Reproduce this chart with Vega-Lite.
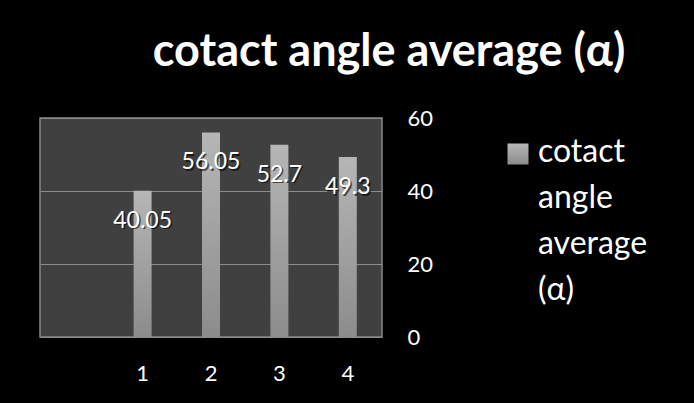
{
  "$schema": "https://vega.github.io/schema/vega-lite/v6.json",
  "autosize": {"type": "none"},
  "width": 342,
  "height": 219,
  "padding": {"left": 40, "top": 118, "right": 312, "bottom": 66},
  "background": "#000000",
  "config": {
    "font": "Lato",
    "view": {"fill": "#404040", "stroke": "#868686", "strokeWidth": 1.5}
  },
  "title": {
    "text": "cotact angle average (α)",
    "font": "Lato",
    "fontSize": 45,
    "fontWeight": "bold",
    "color": "#ffffff",
    "anchor": "middle",
    "frame": "group",
    "dx": 178,
    "baseline": "alphabetic",
    "offset": -4
  },
  "data": {
    "values": [
      {"k": "1", "v": 40.05, "series": "cotact angle average (α)"},
      {"k": "2", "v": 56.05, "series": "cotact angle average (α)"},
      {"k": "3", "v": 52.7, "series": "cotact angle average (α)"},
      {"k": "4", "v": 49.3, "series": "cotact angle average (α)"}
    ]
  },
  "encoding": {
    "x": {
      "field": "k",
      "type": "ordinal",
      "scale": {"domain": ["", "1", "2", "3", "4"], "paddingInner": 0.737, "paddingOuter": 0.3685},
      "axis": {
        "title": null,
        "labelAngle": 0,
        "ticks": false,
        "domain": false,
        "grid": false,
        "labelPadding": 26,
        "labelColor": "#ffffff",
        "labelFontSize": 22,
        "labelFont": "Lato"
      }
    },
    "y": {
      "field": "v",
      "type": "quantitative",
      "scale": {"domain": [0, 60], "nice": false},
      "axis": {
        "orient": "right",
        "title": null,
        "values": [0, 20, 40, 60],
        "ticks": false,
        "domain": false,
        "grid": true,
        "gridColor": "#8c8c8c",
        "gridWidth": 1,
        "labelPadding": 25,
        "labelColor": "#ffffff",
        "labelFontSize": 22,
        "labelFont": "Lato"
      }
    }
  },
  "layer": [
    {
      "mark": {
        "type": "bar",
        "color": {
          "gradient": "linear",
          "x1": 0, "y1": 0, "x2": 0, "y2": 1,
          "stops": [
            {"offset": 0, "color": "#b6b6b6"},
            {"offset": 1, "color": "#8c8c8c"}
          ]
        }
      },
      "encoding": {
        "opacity": {
          "field": "series",
          "type": "nominal",
          "scale": {"range": [1, 1]},
          "legend": {
            "orient": "none",
            "legendX": 462,
            "legendY": 20,
            "padding": 0,
            "title": null,
            "symbolType": "square",
            "symbolSize": 441,
            "symbolStrokeWidth": 0,
            "symbolFillColor": "#a8a8a8",
            "labelFontSize": 32,
            "labelFont": "Lato",
            "labelColor": "#ffffff",
            "labelOffset": 4,
            "labelLimit": 300,
            "labelBaseline": "top",
            "labelExpr": "split(datum.label, ' ')",
            "encoding": {
              "labels": {"lineHeight": {"value": 46}, "dy": {"value": -17}},
              "symbols": {
                "fill": {
                  "value": {
                    "gradient": "linear",
                    "x1": 0, "y1": 0, "x2": 0, "y2": 1,
                    "stops": [
                      {"offset": 0, "color": "#b6b6b6"},
                      {"offset": 1, "color": "#8c8c8c"}
                    ]
                  }
                }
              }
            }
          }
        }
      }
    },
    {
      "mark": {"type": "text", "dy": 31.5, "dx": 1.5, "fontSize": 23, "color": "#000000", "opacity": 0.6, "baseline": "middle", "font": "Lato"},
      "encoding": {"text": {"field": "v", "type": "quantitative", "format": ".4~f"}}
    },
    {
      "mark": {"type": "text", "dy": 30, "fontSize": 23, "color": "#ffffff", "baseline": "middle", "font": "Lato"},
      "encoding": {"text": {"field": "v", "type": "quantitative", "format": ".4~f"}}
    }
  ]
}
